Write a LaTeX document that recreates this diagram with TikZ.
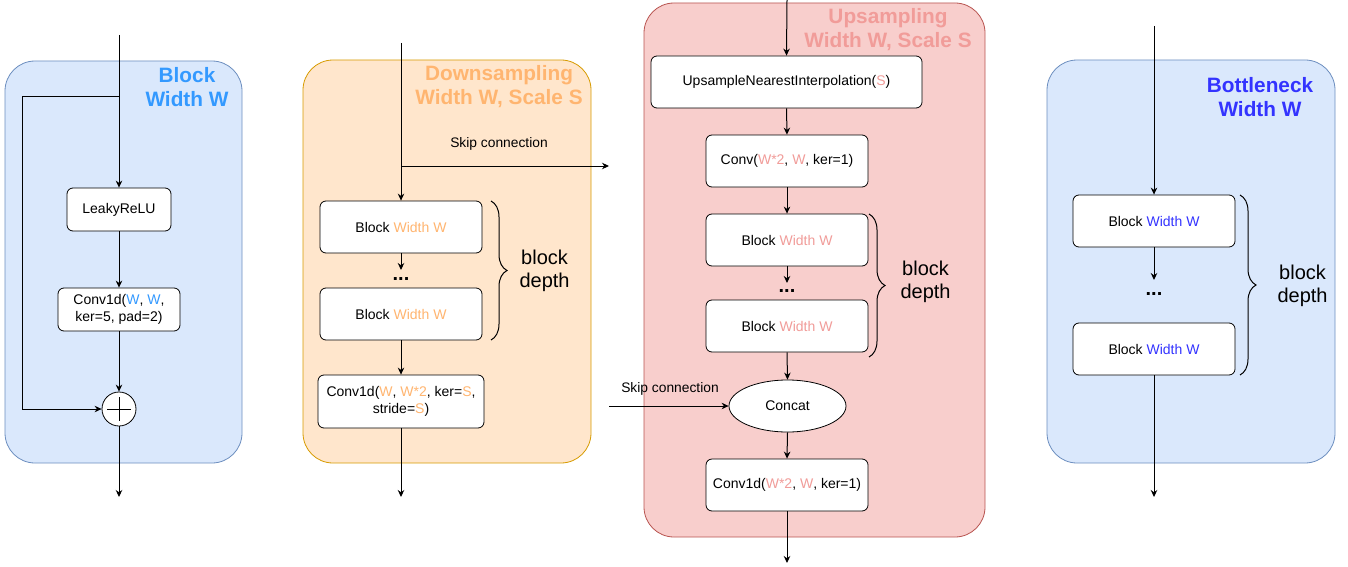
\documentclass[tikz,border=0pt]{standalone}
\usepackage{fontspec}
\setmainfont{Liberation Sans}
\usetikzlibrary{arrows.meta,shapes.geometric,decorations.pathreplacing,calc}
\definecolor{bluefill}{HTML}{DAE8FC}
\definecolor{blueline}{HTML}{6C8EBF}
\definecolor{orfill}{HTML}{FFE6CC}
\definecolor{orline}{HTML}{D79B00}
\definecolor{redfill}{HTML}{F8CECC}
\definecolor{redline}{HTML}{B85450}
\definecolor{tblue}{HTML}{3399FF}
\definecolor{tor}{HTML}{FFB570}
\definecolor{tred}{HTML}{F19C99}
\definecolor{tdeep}{HTML}{3333FF}
\tikzset{
  panel/.style={rounded corners=30pt, line width=0.8pt},
  box/.style={draw=black, fill=white, rounded corners=6pt, line width=0.8pt, inner sep=0pt, align=center, font=\fontsize{14}{17}\selectfont},
  arr/.style={line width=1pt, -{Stealth[length=7pt,width=6.5pt]}},
  ln/.style={line width=1pt},
  ttl/.style={align=center, font=\fontsize{20.8}{24}\selectfont\bfseries},
  depthlbl/.style={align=center, anchor=west, font=\fontsize{20}{23}\selectfont},
  brc/.style={decorate, decoration={brace, amplitude=16pt}, line width=1pt},
  dots/.style={font=\fontsize{20}{20}\selectfont\bfseries},
  small/.style={font=\fontsize{13.8}{15}\selectfont}
}
\begin{document}
\begin{tikzpicture}[x=1pt,y=-1pt]
\useasboundingbox (0,0) rectangle (1348,567);
% ---------- panels
\draw[panel, fill=bluefill, draw=blueline] (5,61) rectangle (242,463);
\draw[panel, fill=orfill, draw=orline] (303,60) rectangle (591,463);
\draw[panel, fill=redfill, draw=redline] (644,3) rectangle (985,537);
\draw[panel, fill=bluefill, draw=blueline] (1047,60) rectangle (1335,463);
% ---------- titles
\node[ttl, text=tblue] (t1) at (187,87) {Block\\Width W};
\node[ttl, text=tor] (t2) at (499,87) {Downsampling\\Width W, Scale S};
\node[ttl, text=tred] (t3) at (888,30) {Upsampling\\Width W, Scale S};
\node[ttl, text=tdeep] (t4) at (1260,97) {Bottleneck\\Width W};
% ---------- Panel 1: Block
\coordinate (in1) at (119,35);
\coordinate (s1) at (119,97);
\coordinate (k1) at (22,97);
\coordinate (k2) at (22,409);
\coordinate (out1) at (119,497);
\node[box, minimum width=104pt, minimum height=43pt] (lrelu) at (119,209.5) {LeakyReLU};
\node[box, minimum width=122pt, minimum height=43pt] (conv1) at (119,309.5) {Conv1d(\textcolor{tblue}{W}, \textcolor{tblue}{W},\\ker=5, pad=2)};
\node[draw=black, fill=white, circle, minimum size=34pt, inner sep=0pt, line width=0.8pt] (plus) at (119,409) {};
\draw[line width=0.8pt] ($(plus.center)+(-12,0)$) -- ($(plus.center)+(12,0)$);
\draw[line width=0.8pt] ($(plus.center)+(0,-12)$) -- ($(plus.center)+(0,12)$);
\draw[arr] (in1) -- (lrelu.north);
\draw[ln] (s1) -- (k1) -- (k2);
\draw[arr] (k2) -- (plus.west);
\draw[arr] (lrelu.south) -- (conv1.north);
\draw[arr] (conv1.south) -- (plus.north);
\draw[arr] (plus.south) -- (out1);
% ---------- Panel 2: Downsampling
\coordinate (in2) at (401,43);
\coordinate (s2) at (401,166);
\coordinate (skipend) at (609,166);
\coordinate (out2) at (401,497);
\coordinate (d2dots) at (401,270);
\node[box, minimum width=162pt, minimum height=52pt] (bd1) at (401,227) {Block \textcolor{tor}{Width W}};
\node[box, minimum width=162pt, minimum height=52pt] (bd2) at (401,314) {Block \textcolor{tor}{Width W}};
\node[box, minimum width=166pt, minimum height=53pt] (convd) at (401,401.5) {Conv1d(\textcolor{tor}{W}, \textcolor{tor}{W*2}, ker=\textcolor{tor}{S},\\stride=\textcolor{tor}{S})};
\node[dots] (dd) at (401,279) {...};
\draw[arr] (in2) -- (bd1.north);
\draw[arr] (s2) -- (skipend);
\node[small] (skl1) at (499,144) {Skip connection};
\draw[arr] (bd1.south) -- (d2dots);
\draw[arr] (bd2.south) -- (convd.north);
\draw[arr] (convd.south) -- (out2);
\coordinate (br2a) at (491,201);
\coordinate (br2b) at (491,340);
\draw[brc] (br2a) -- (br2b);
\node[depthlbl] (bdl2) at (516,271) {block\\depth};
% ---------- Panel 3: Upsampling
\coordinate (in3) at (787,0);
\coordinate (out3) at (787,563);
\coordinate (u3dots) at (787,283);
\coordinate (skipstart) at (609,406);
\node[box, minimum width=271pt, minimum height=52pt] (ups) at (786.5,82) {UpsampleNearestInterpolation(\textcolor{tred}{S})};
\node[box, minimum width=162pt, minimum height=52pt] (convu) at (787,161) {Conv(\textcolor{tred}{W*2}, \textcolor{tred}{W}, ker=1)};
\node[box, minimum width=162pt, minimum height=52pt] (bu1) at (787,240) {Block \textcolor{tred}{Width W}};
\node[box, minimum width=162pt, minimum height=52pt] (bu2) at (787,326) {Block \textcolor{tred}{Width W}};
\node[draw=black, fill=white, ellipse, minimum width=117pt, minimum height=52pt, inner sep=0pt, line width=0.8pt, font=\fontsize{14}{17}\selectfont] (cat) at (787.5,406) {Concat};
\node[box, minimum width=162pt, minimum height=52pt] (conv1u) at (787,485) {Conv1d(\textcolor{tred}{W*2}, \textcolor{tred}{W}, ker=1)};
\node[dots] (ud) at (787,291) {...};
\draw[arr] (in3) -- (ups.north);
\draw[arr] (ups.south) -- (convu.north);
\draw[arr] (convu.south) -- (bu1.north);
\draw[arr] (bu1.south) -- (u3dots);
\draw[arr] (bu2.south) -- (cat.north);
\draw[arr] (skipstart) -- (cat.west);
\node[small] (skl2) at (670,389) {Skip connection};
\draw[arr] (cat.south) -- (conv1u.north);
\draw[arr] (conv1u.south) -- (out3);
\coordinate (br3a) at (869,214);
\coordinate (br3b) at (869,357);
\draw[brc] (br3a) -- (br3b);
\node[depthlbl] (bdl3) at (897,282) {block\\depth};
% ---------- Panel 4: Bottleneck
\coordinate (in4) at (1154,26);
\coordinate (out4) at (1154,497);
\coordinate (b4dots) at (1154,280);
\node[box, minimum width=162pt, minimum height=52pt] (bb1) at (1154,221) {Block \textcolor{tdeep}{Width W}};
\node[box, minimum width=162pt, minimum height=52pt] (bb2) at (1154,349) {Block \textcolor{tdeep}{Width W}};
\node[dots] (bd) at (1154,294) {...};
\draw[arr] (in4) -- (bb1.north);
\draw[arr] (bb1.south) -- (b4dots);
\draw[arr] (bb2.south) -- (out4);
\coordinate (br4a) at (1240,195);
\coordinate (br4b) at (1240,375);
\draw[brc] (br4a) -- (br4b);
\node[depthlbl] (bdl4) at (1274,286) {block\\depth};
\end{tikzpicture}
\end{document}
